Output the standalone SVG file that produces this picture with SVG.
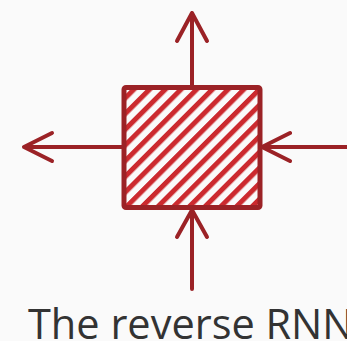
<svg xmlns="http://www.w3.org/2000/svg" width="347" height="341" viewBox="0 0 347 341">
  <defs>
    <pattern id="hatch" patternUnits="userSpaceOnUse" width="11.1" height="11.1" patternTransform="rotate(45)">
      <rect x="0" y="0" width="5" height="11.1" fill="#cc2a2f"/>
    </pattern>
    <style>
      .wire { fill: none; stroke: #9b2226; stroke-width: 4; stroke-linecap: round; stroke-linejoin: round; }
      .cell { fill: url(#hatch); stroke: #9b2226; stroke-width: 5; }
      .caption { font-family: "Open Sans", "Noto Sans", sans-serif; font-size: 41.5px; fill: #333333; }
    </style>
  </defs>
  <rect width="347" height="341" fill="#fafafa"/>

  <g id="connectors">
    <!-- output upward -->
    <path class="wire" d="M192 87 V13 M177 41 L192 13 L207 41"/>
    <!-- output to the left -->
    <path class="wire" d="M124 147 H24 M52 133 L24 147 L52 161"/>
    <!-- input from the right (next step state) -->
    <path class="wire" d="M349 147 H262 M290 133 L262 147 L290 161"/>
    <!-- input from below -->
    <path class="wire" d="M192 289 V210 M177 237 L192 210 L207 237"/>
  </g>

  <g id="rnn-cell">
    <rect class="cell" x="124" y="87.5" width="136" height="120" rx="2"/>
  </g>

  <g id="caption">
    <text class="caption" x="28" y="338.5">The reverse RNN</text>
  </g>
</svg>
